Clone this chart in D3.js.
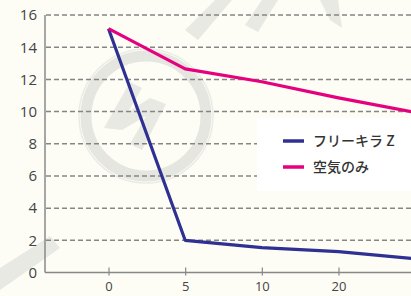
<!DOCTYPE html>
<html><head><meta charset="utf-8">
<script src="https://cdn.jsdelivr.net/npm/d3@7"></script>
<style>html,body{margin:0;padding:0;background:#fdfdf6;overflow:hidden}</style>
</head><body>
<script>
const categories = ["0","5","10","20","30"];
const seriesNames = ["フリーキラ Z","空気のみ"];
const freeKiller = [15.15, 2.0, 1.55, 1.3, 0.85];
const airOnly = [15.15, 12.65, 11.85, 10.85, 9.95];
const yTicks = [0,2,4,6,8,10,12,14,16];
const colors = ["#2e3192","#e6007e"];

const W=411,H=296;
const svg=d3.select("body").append("svg").attr("width",W).attr("height",H);
svg.append("rect").attr("width",W).attr("height",H).attr("fill","#fdfdf6");

// watermark
const wm=svg.append("g").attr("fill","#e9e9e4").attr("stroke","none");
wm.append("circle").attr("cx",146).attr("cy",116).attr("r",60).attr("fill","none").attr("stroke","#e6e6e1").attr("stroke-width",11);
wm.append("circle").attr("cx",146).attr("cy",116).attr("r",67).attr("fill","none").attr("stroke","#ecece7").attr("stroke-width",1.5);
wm.append("path").attr("d","M104,128 L130,82 L142,88 L128,112 L150,98 L166,104 L142,150 L130,144 L146,116 L122,130 Z");
wm.append("path").attr("d","M185,30 L215,0 L232,0 L198,40 Z");
wm.append("path").attr("d","M245,25 L262,0 L278,0 L258,32 Z");
wm.append("path").attr("d","M330,20 L320,0 L338,0 L342,28 Z");
wm.append("path").attr("d","M0,268 L50,236 L60,248 L0,290 Z");

const x=d3.scaleLinear().domain([0,3]).range([108.5,338.5]);
const y=d3.scaleLinear().domain([0,16]).range([272.5,15]);
const xi=categories.map((c,i)=>i);

// grid
svg.append("g").selectAll("line").data(yTicks.filter(d=>d>0)).join("line")
 .attr("x1",46).attr("x2",W).attr("y1",d=>y(d)).attr("y2",d=>y(d))
 .attr("stroke","#858585").attr("stroke-width",1.5).attr("stroke-dasharray","5,3");

// axes
const yAxis=svg.append("g").attr("transform","translate(45,0)")
 .call(d3.axisLeft(y).tickValues(yTicks).tickSize(0).tickPadding(8));
yAxis.select(".domain").attr("stroke","#888").attr("stroke-width",1.5).attr("d",`M0,${y(16)}V${y(0)}`);
yAxis.selectAll("text").attr("font-family","Open Sans, sans-serif").attr("font-size",15).attr("fill","#444");

const xAxis=svg.append("g").attr("transform",`translate(0,${y(0)})`)
 .call(d3.axisBottom(x).tickValues(xi.slice(0,4)).tickFormat(i=>categories[i]).tickSize(0).tickPadding(9));
xAxis.select(".domain").attr("stroke","#888").attr("stroke-width",1.5).attr("d",`M45,0H${W}`);
xAxis.selectAll(".tick line").attr("stroke","#888").attr("stroke-width",1.2).attr("y1",-5).attr("y2",3);
xAxis.selectAll("text").attr("font-family","Open Sans, sans-serif").attr("font-size",13).attr("fill","#444");

// legend box
svg.append("rect").attr("x",257).attr("y",118).attr("width",160).attr("height",73).attr("fill","#ffffff");

const line=d3.line().x((d,i)=>x(i)).y(d=>y(d));
[freeKiller,airOnly].forEach((s,k)=>{
 svg.append("path").datum(s).attr("d",line).attr("fill","none")
  .attr("stroke",colors[k]).attr("stroke-width",3.2).attr("stroke-linejoin","round");
});

// legend
const lg=svg.append("g");
seriesNames.forEach((n,k)=>{
 const yy=141+k*26;
 lg.append("line").attr("x1",283).attr("x2",304).attr("y1",yy).attr("y2",yy).attr("stroke",colors[k]).attr("stroke-width",3.5);
 lg.append("text").attr("x",313).attr("y",yy+5).text(n).attr("font-family","Noto Sans CJK JP, sans-serif").attr("font-size",14).attr("font-weight",500).attr("fill","#333");
});
</script>
</body></html>
